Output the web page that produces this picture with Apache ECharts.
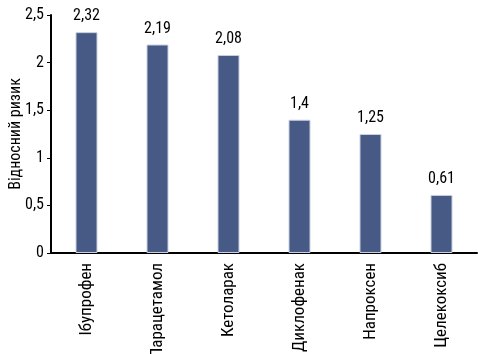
<!DOCTYPE html>
<html><head><meta charset="utf-8">
<script src="https://cdn.jsdelivr.net/npm/echarts@6/dist/echarts.min.js"></script>
<style>html,body{margin:0;padding:0;background:#fff}#c{width:478px;height:354px}</style>
</head><body><div id="c"></div>
<script>
var categories = ['Ібупрофен','Парацетамол','Кетоларак','Диклофенак','Напроксен','Целекоксиб'];
var values = [2.32, 2.19, 2.08, 1.4, 1.25, 0.61];
var yTicks = [0, 0.5, 1, 1.5, 2, 2.5];
var yTitle = 'Відносний ризик';
var FONT = '"Roboto Condensed", "Liberation Sans Narrow", "Arial Narrow", sans-serif';
function fmt(v){ return String(v).replace('.', ','); }
var chart = echarts.init(document.getElementById('c'), null, {renderer:'canvas'});
chart.setOption({
  animation:false,
  grid:{left:51, right:1, top:15, bottom:101, containLabel:false, outerBoundsMode:'none'},
  xAxis:{type:'category', data:categories,
    axisLine:{lineStyle:{color:'#000', width:2}},
    axisTick:{show:false},
    axisLabel:{rotate:90, color:'#000', fontSize:17, fontFamily:FONT, margin:10}
  },
  yAxis:{type:'value', min:yTicks[0], max:yTicks[yTicks.length-1], interval:0.5,
    name:yTitle, nameLocation:'middle', nameGap:27, nameRotate:90, nameMoveOverlap:false,
    nameTextStyle:{color:'#000', fontSize:16, fontFamily:FONT},
    axisLine:{show:true, lineStyle:{color:'#000', width:2}},
    axisTick:{show:true, length:4, lineStyle:{color:'#000'}},
    splitLine:{show:false},
    axisLabel:{color:'#000', fontSize:16, fontFamily:FONT, margin:7, formatter:fmt}
  },
  series:[{type:'bar', data:values, barWidth:22,
    itemStyle:{color:'#475a86', borderColor:'#c9d0de', borderWidth:1},
    label:{show:true, position:'top', distance:8, color:'#000', fontSize:16, fontFamily:FONT, formatter:function(p){return fmt(p.value);}}
  }]
});
</script></body></html>
